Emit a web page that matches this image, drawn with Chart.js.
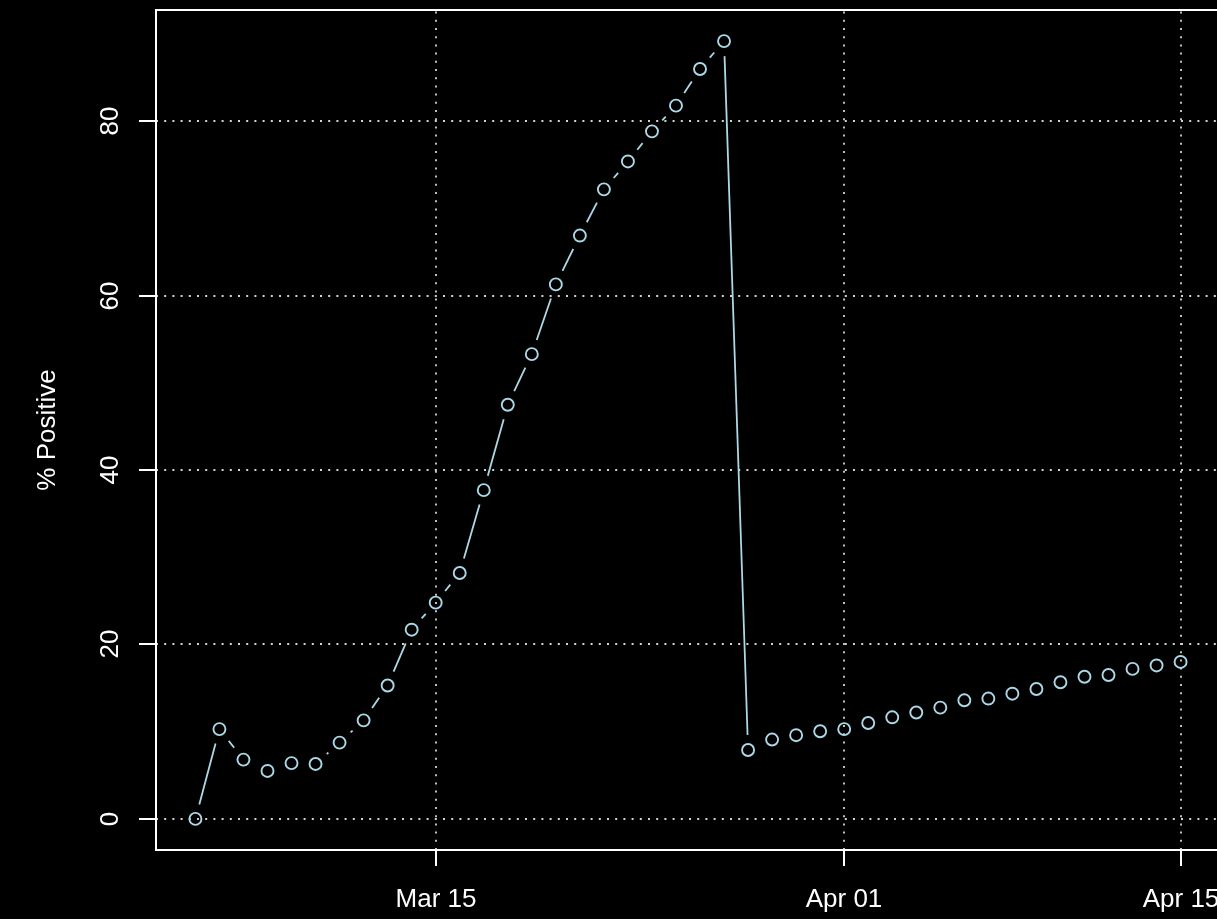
<!DOCTYPE html>
<html>
<head>
<meta charset="utf-8">
<script src="https://cdn.jsdelivr.net/npm/chart.js@4/dist/chart.umd.min.js"></script>
<style>
  html, body { margin: 0; padding: 0; background: #000; overflow: hidden; }
  canvas { display: block; }
</style>
</head>
<body>
<canvas id="chart" width="1222" height="919"></canvas>
<script>
// daily share of positive tests
const dates = [
  '2020-03-05','2020-03-06','2020-03-07','2020-03-08','2020-03-09','2020-03-10','2020-03-11',
  '2020-03-12','2020-03-13','2020-03-14','2020-03-15','2020-03-16','2020-03-17','2020-03-18',
  '2020-03-19','2020-03-20','2020-03-21','2020-03-22','2020-03-23','2020-03-24','2020-03-25',
  '2020-03-26','2020-03-27','2020-03-28','2020-03-29','2020-03-30','2020-03-31','2020-04-01',
  '2020-04-02','2020-04-03','2020-04-04','2020-04-05','2020-04-06','2020-04-07','2020-04-08',
  '2020-04-09','2020-04-10','2020-04-11','2020-04-12','2020-04-13','2020-04-14','2020-04-15'
];
const positivePct = [
  0.0, 10.3, 6.8, 5.5, 6.4, 6.3, 8.75,
  11.3, 15.3, 21.7, 24.8, 28.2, 37.7, 47.5,
  53.3, 61.3, 66.9, 72.2, 75.4, 78.85, 81.8,
  86.0, 89.2, 7.9, 9.1, 9.6, 10.05, 10.3,
  11.0, 11.65, 12.2, 12.76, 13.6, 13.8, 14.36,
  14.9, 15.67, 16.3, 16.5, 17.2, 17.6, 18.0
];
const xTickDates  = ['2020-03-15', '2020-04-01', '2020-04-15'];
const xTickLabels = ['Mar 15', 'Apr 01', 'Apr 15'];
const yTicks      = [0, 20, 40, 60, 80];
const yTitle      = '% Positive';

const DAY = 86400000;
const t0 = Date.parse(dates[0]);
const toDay = s => (Date.parse(s) - t0) / DAY;
const xs = dates.map(toDay);

// R-style 4% axis extension
const ext = (lo, hi) => { const p = (hi - lo) * 0.04; return [lo - p, hi + p]; };
const [xMin, xMax] = ext(Math.min(...xs), Math.max(...xs));
const [yMin, yMax] = ext(Math.min(...positivePct), Math.max(...positivePct));

const FG = '#ffffff';
const GRID = '#d3d3d3';
const LINE = '#add8e6';
const FONT = '26px "Liberation Sans", Arial, Helvetica, sans-serif';
const GAP = 15;   // type="b" gap around each point

const rPlot = {
  id: 'rPlot',
  beforeDatasetsDraw(chart) {
    const { ctx, chartArea: a, scales: { x, y } } = chart;
    ctx.save();
    // dotted grid
    ctx.strokeStyle = GRID;
    ctx.lineWidth = 1.8;
    ctx.setLineDash([2, 6.2]);
    yTicks.forEach(v => {
      const py = Math.round(y.getPixelForValue(v));
      ctx.beginPath(); ctx.moveTo(a.left, py); ctx.lineTo(a.right, py); ctx.stroke();
    });
    xTickDates.forEach(d => {
      const px = Math.round(x.getPixelForValue(toDay(d)));
      ctx.beginPath(); ctx.moveTo(px, a.bottom); ctx.lineTo(px, a.top); ctx.stroke();
    });
    ctx.setLineDash([]);

    // connecting segments with gaps around the points
    const pts = chart.getDatasetMeta(0).data;
    ctx.strokeStyle = LINE;
    ctx.lineWidth = 1.8;
    for (let i = 1; i < pts.length; i++) {
      const p0 = pts[i - 1], p1 = pts[i];
      const dx = p1.x - p0.x, dy = p1.y - p0.y;
      const d = Math.hypot(dx, dy);
      if (d <= 2 * GAP) continue;
      const ux = dx / d, uy = dy / d;
      ctx.beginPath();
      ctx.moveTo(p0.x + ux * GAP, p0.y + uy * GAP);
      ctx.lineTo(p1.x - ux * GAP, p1.y - uy * GAP);
      ctx.stroke();
    }
    ctx.restore();
  },
  afterDraw(chart) {
    const { ctx, chartArea: a, scales: { x, y } } = chart;
    ctx.save();
    ctx.strokeStyle = FG;
    ctx.fillStyle = FG;
    ctx.lineWidth = 2;
    ctx.strokeRect(a.left, a.top, a.right - a.left, a.bottom - a.top);

    ctx.font = FONT;
    // x axis ticks + labels
    ctx.textAlign = 'center';
    ctx.textBaseline = 'alphabetic';
    xTickDates.forEach((d, i) => {
      const px = Math.round(x.getPixelForValue(toDay(d)));
      ctx.beginPath(); ctx.moveTo(px, a.bottom); ctx.lineTo(px, a.bottom + 16); ctx.stroke();
      ctx.fillText(xTickLabels[i], px, 907);
    });
    // y axis ticks + rotated labels
    yTicks.forEach(v => {
      const py = Math.round(y.getPixelForValue(v));
      ctx.beginPath(); ctx.moveTo(a.left, py); ctx.lineTo(a.left - 17, py); ctx.stroke();
      ctx.save();
      ctx.translate(118, py);
      ctx.rotate(-Math.PI / 2);
      ctx.fillText(String(v), 0, 0);
      ctx.restore();
    });
    // y title
    ctx.save();
    ctx.translate(55, (a.top + a.bottom) / 2);
    ctx.rotate(-Math.PI / 2);
    ctx.fillText(yTitle, 0, 0);
    ctx.restore();
    ctx.restore();
  }
};

new Chart(document.getElementById('chart'), {
  type: 'scatter',
  data: {
    datasets: [{
      label: yTitle,
      data: xs.map((v, i) => ({ x: v, y: positivePct[i] })),
      showLine: false,
      pointStyle: 'circle',
      pointRadius: 6,
      pointHoverRadius: 6,
      pointBorderWidth: 1.9,
      pointBorderColor: LINE,
      pointBackgroundColor: 'rgba(0,0,0,0)'
    }]
  },
  options: {
    responsive: false,
    animation: false,
    devicePixelRatio: 1,
    events: [],
    layout: { autoPadding: false, padding: { left: 156, top: 10, right: 2, bottom: 69 } },
    plugins: { legend: { display: false }, tooltip: { enabled: false } },
    scales: {
      x: { type: 'linear', display: false, min: xMin, max: xMax },
      y: { type: 'linear', display: false, min: yMin, max: yMax }
    }
  },
  plugins: [rPlot]
});
</script>
</body>
</html>
